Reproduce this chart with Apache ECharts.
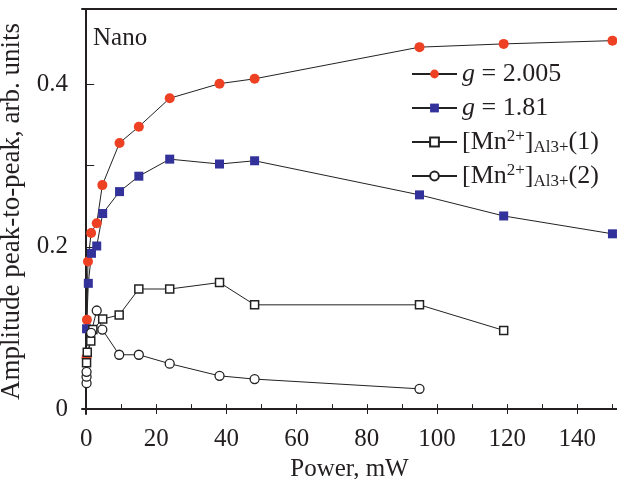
<!DOCTYPE html>
<html>
<head>
<meta charset="utf-8">
<script src="https://cdn.jsdelivr.net/npm/echarts@6/dist/echarts.min.js"></script>
<style>html,body{margin:0;padding:0;background:#fff}#c{width:617px;height:479px}</style>
</head>
<body>
<div id="c"></div>
<script>
// ---- data ----
const powerG2005 = [0.1, 0.2, 0.5, 1.4, 3.0, 4.6, 9.5, 15, 23.8, 38, 48, 95, 119, 150];
const ampG2005   = [0.064, 0.110, 0.182, 0.217, 0.229, 0.276, 0.328, 0.348, 0.383, 0.401, 0.407, 0.446, 0.450, 0.454];

const powerG181 = [0.1, 0.6, 1.5, 3.0, 4.7, 9.5, 15, 23.8, 38, 48, 95, 119, 150];
const ampG181   = [0.099, 0.155, 0.192, 0.201, 0.241, 0.268, 0.287, 0.308, 0.302, 0.306, 0.264, 0.238, 0.216];

const powerMn1 = [0.1, 0.3, 1.3, 1.9, 4.7, 9.4, 15, 23.8, 38, 48, 95, 119];
const ampMn1   = [0.057, 0.070, 0.084, 0.098, 0.111, 0.116, 0.148, 0.148, 0.156, 0.1285, 0.1285, 0.097];

const powerMn2 = [0.1, 0.1, 0.1, 1.4, 3.0, 4.6, 9.4, 15, 23.8, 38, 48, 95];
const ampMn2   = [0.032, 0.040, 0.046, 0.094, 0.1215, 0.098, 0.067, 0.067, 0.056, 0.041, 0.037, 0.025];

const seriesNames = ['g = 2.005', 'g = 1.81', '[Mn2+]Al3+(1)', '[Mn2+]Al3+(2)'];
const xMajorTicks = [0, 20, 40, 60, 80, 100, 120, 140];
const xMinorTicks = [0, 10, 20, 30, 40, 50, 60, 70, 80, 90, 100, 110, 120, 130, 140, 150];
const yTicks = [0.1, 0.2, 0.3, 0.4];
const yLabels = [0, 0.2, 0.4];

const FONT = '"Liberation Serif", "Times New Roman", serif';
const INK = '#231f20';

function pairs(xs, ys) { return xs.map((x, i) => [x, ys[i]]); }

const legendText = {
  'g = 2.005': '{it|g} = 2.005',
  'g = 1.81': '{it|g} = 1.81',
  '[Mn2+]Al3+(1)': '[Mn{sup|2+}]{sub|Al3+}(1)',
  '[Mn2+]Al3+(2)': '[Mn{sup|2+}]{sub|Al3+}(2)'
};

const chart = echarts.init(document.getElementById('c'), null, {renderer: 'canvas'});
const xBase = {type: 'value', min: -1.2, max: 151.3, gridIndex: 0, splitLine: {show: false}};
chart.setOption({
  animation: false,
  backgroundColor: '#fff',
  title: {text: 'Nano', left: 88, top: 21, textStyle: {fontFamily: FONT, fontSize: 25, fontWeight: 'normal', color: INK}},
  grid: {left: 82, right: 0, top: 9, bottom: 65, containLabel: false, outerBoundsMode: 'none'},
  legend: {
    orient: 'vertical', left: 406, top: 55, itemWidth: 45, itemHeight: 11, itemGap: 6,
    data: seriesNames,
    formatter: n => legendText[n],
    textStyle: {
      fontFamily: FONT, fontSize: 26, color: INK, lineHeight: 28, padding: [0, 0, 0, 0],
      rich: {
        it: {fontFamily: FONT, fontSize: 26, fontStyle: 'italic', color: INK},
        sup: {fontFamily: FONT, fontSize: 17, color: INK, verticalAlign: 'top', lineHeight: 14},
        sub: {fontFamily: FONT, fontSize: 17, color: INK, verticalAlign: 'bottom', lineHeight: 12}
      }
    }
  },
  xAxis: [
    Object.assign({}, xBase, {
      position: 'bottom',
      name: 'Power, mW', nameLocation: 'middle', nameGap: 42,
      nameTextStyle: {fontFamily: FONT, fontSize: 25, color: INK},
      axisLine: {show: true, lineStyle: {color: INK, width: 2}},
      axisTick: {show: true, inside: true, length: 5, customValues: xMinorTicks, lineStyle: {color: INK, width: 1}},
      axisLabel: {show: true, customValues: xMajorTicks, margin: 13, fontFamily: FONT, fontSize: 25, color: INK}
    }),
    Object.assign({}, xBase, {
      position: 'bottom',
      axisLine: {show: false},
      axisTick: {show: true, inside: true, length: 9, customValues: xMajorTicks, lineStyle: {color: INK, width: 1}},
      axisLabel: {show: false}
    }),
    Object.assign({}, xBase, {
      position: 'top',
      axisLine: {show: true, lineStyle: {color: INK, width: 2}},
      axisTick: {show: false},
      axisLabel: {show: false}
    })
  ],
  yAxis: {
    type: 'value', min: -0.006, max: 0.493,
    splitLine: {show: false},
    name: 'Amplitude peak-to-peak, arb. units', nameLocation: 'middle', nameGap: 45, nameRotate: 90,
    nameTextStyle: {fontFamily: FONT, fontSize: 27, color: INK},
    axisLine: {show: true, lineStyle: {color: INK, width: 2}},
    axisTick: {show: true, inside: true, length: 8, customValues: yTicks, lineStyle: {color: INK, width: 1}},
    axisLabel: {show: true, customValues: yLabels, margin: 14, fontFamily: FONT, fontSize: 25, color: INK,
      formatter: v => (v === 0 ? '0' : String(v))}
  },
  series: [
    {name: seriesNames[0], type: 'line', xAxisIndex: 0, data: pairs(powerG2005, ampG2005),
     symbol: 'circle', symbolSize: 10, lineStyle: {color: '#222', width: 1},
     itemStyle: {color: '#ee4123', borderWidth: 0}},
    {name: seriesNames[1], type: 'line', xAxisIndex: 0, data: pairs(powerG181, ampG181),
     symbol: 'rect', symbolSize: 9, lineStyle: {color: '#222', width: 1},
     itemStyle: {color: '#33329a', borderWidth: 0}},
    {name: seriesNames[2], type: 'line', xAxisIndex: 0, data: pairs(powerMn1, ampMn1),
     symbol: 'rect', symbolSize: 8, lineStyle: {color: '#222', width: 1},
     itemStyle: {color: '#fff', borderColor: '#222', borderWidth: 1.5}},
    {name: seriesNames[3], type: 'line', xAxisIndex: 0, data: pairs(powerMn2, ampMn2),
     symbol: 'circle', symbolSize: 9, lineStyle: {color: '#222', width: 1},
     itemStyle: {color: '#fff', borderColor: '#222', borderWidth: 1.3}}
  ]
});
</script>
</body>
</html>
